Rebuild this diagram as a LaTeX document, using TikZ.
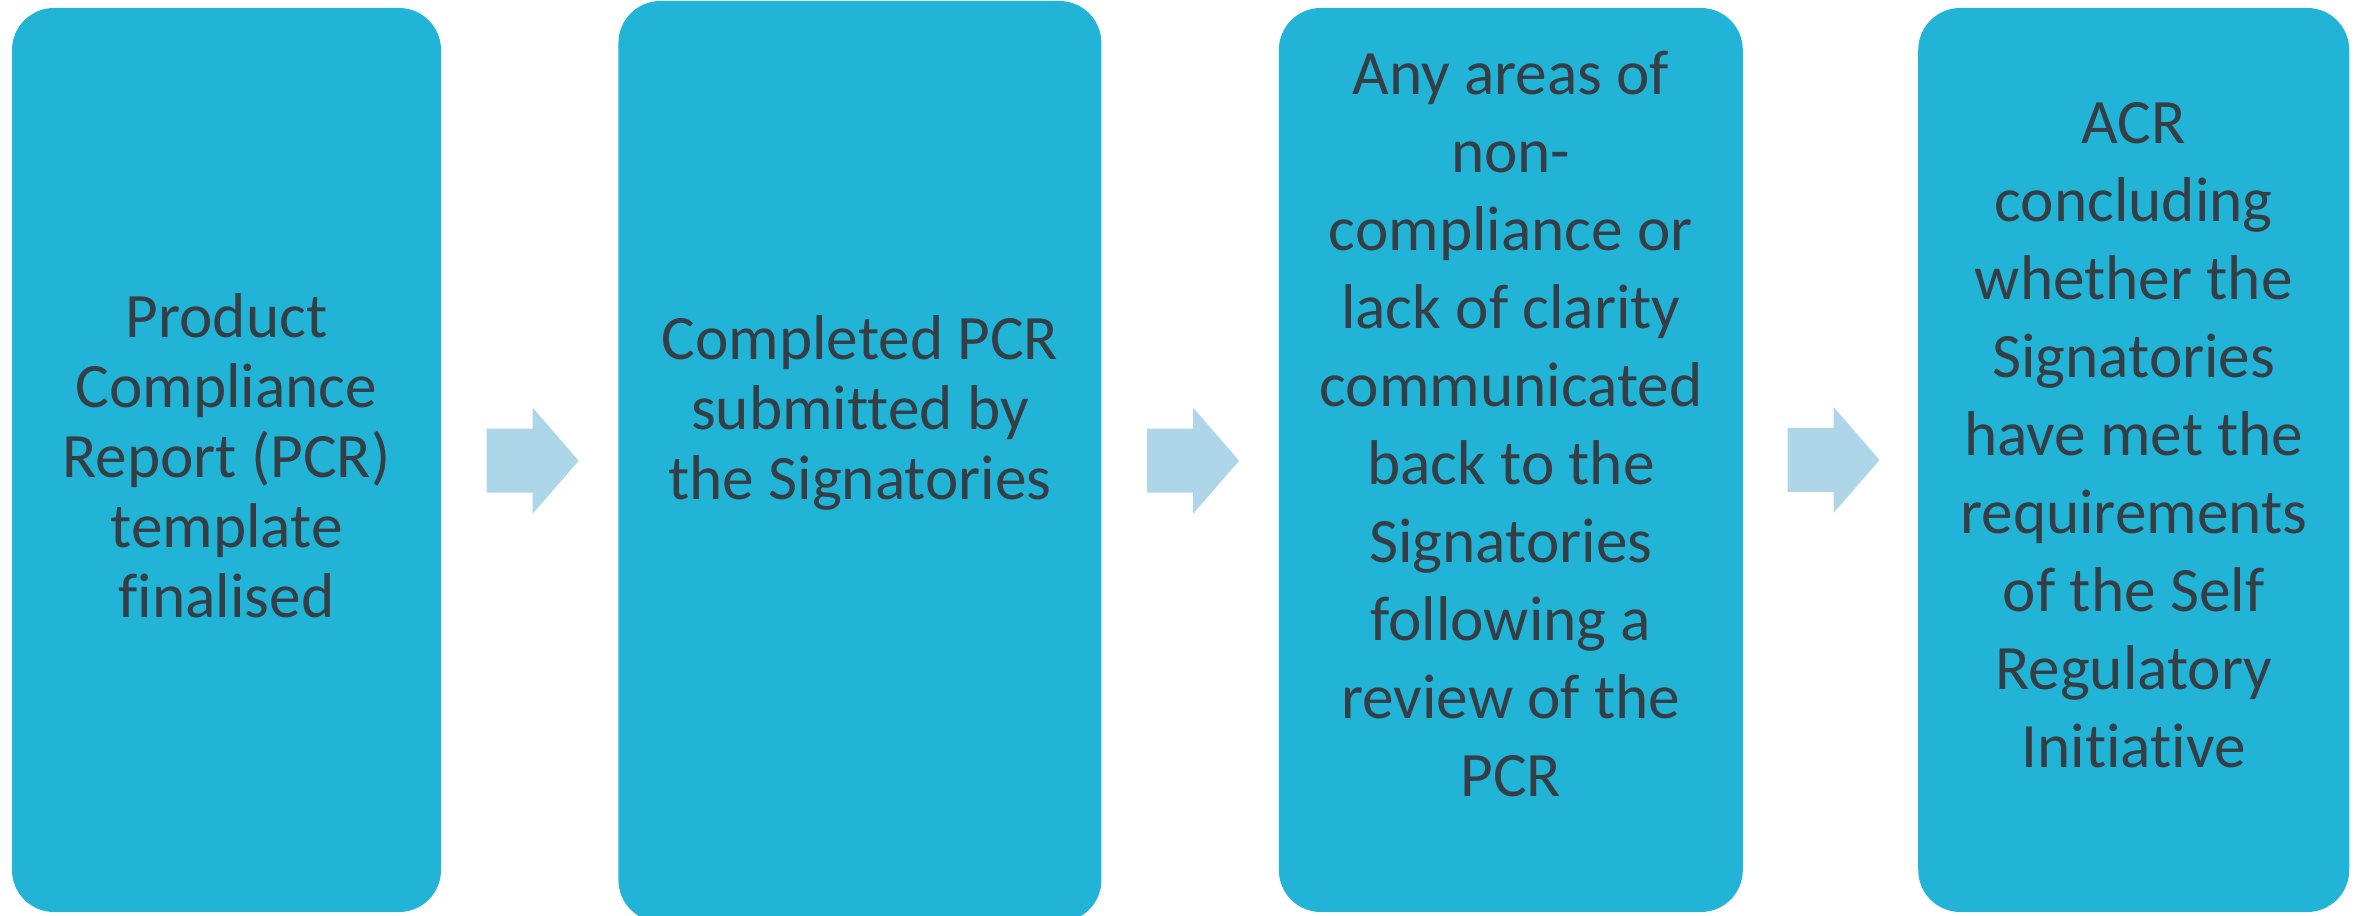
\documentclass[tikz,border=0pt]{standalone}
\usepackage{fontspec}
\setmainfont{Carlito}[Ligatures=NoCommon]
\usetikzlibrary{positioning,calc}
\definecolor{stepblue}{HTML}{22B4D7}
\definecolor{arrowblue}{HTML}{ADD7E8}
\definecolor{textgray}{HTML}{353E45}

\begin{document}
\begin{tikzpicture}

	\tikzset{
		stepbox/.style={rectangle,rounded corners=0.42cm,fill=stepblue,minimum width=4.29cm,minimum height=9.04cm,inner sep=0pt},
		steptext/.style={text=textgray,align=center,inner sep=0pt,font=\fontsize{18}{19.9}\selectfont},
		widetext/.style={steptext,font=\fontsize{18}{22.2}\selectfont},
		flowarrow/.pic={\fill[arrowblue] (-0.46,-0.32) -- (0,-0.32) -- (0,-0.53) -- (0.46,0) -- (0,0.53) -- (0,0.32) -- (-0.46,0.32) -- cycle;}
	}
	\useasboundingbox (0,0) rectangle (23.56,9.15);

	\node[stepbox] (pcrtemplate) at (2.265,4.55) {};
	\node[steptext] (pcrtemplatetext) at ([yshift=0.04cm]pcrtemplate.center) {Product\\Compliance\\Report (PCR)\\template\\finalised};

	\node[stepbox,minimum width=4.83cm,minimum height=9.21cm,right=1.76cm of pcrtemplate,yshift=-0.015cm] (pcrsubmitted) {};
	\node[steptext] (pcrsubmittedtext) at ([yshift=0.485cm]pcrsubmitted.center) {Completed PCR\\submitted by\\the Signatories};

	\node[stepbox,minimum width=4.64cm,right=1.76cm of pcrsubmitted,yshift=0.015cm] (pcrreview) {};
	\node[widetext] (pcrreviewtext) at ([yshift=0.36cm]pcrreview.center) {Any areas of\\non-\\compliance or\\lack of clarity\\communicated\\back to the\\Signatories\\following a\\review of the\\PCR};

	\node[stepbox,minimum width=4.31cm,right=1.74cm of pcrreview] (acrfinal) {};
	\node[widetext] (acrfinaltext) at ([yshift=0.25cm]acrfinal.center) {ACR\\concluding\\whether the\\Signatories\\have met the\\requirements\\of the Self\\Regulatory\\Initiative};

	\pic at ($(pcrtemplate.east)!0.5!(pcrsubmitted.west)+(0.03,0)$) {flowarrow};
	\pic at ($(pcrsubmitted.east)!0.5!(pcrreview.west)+(0.03,0)$) {flowarrow};
	\pic at ($(pcrreview.east)!0.5!(acrfinal.west)+(0.03,0)$) {flowarrow};

\end{tikzpicture}
\end{document}
